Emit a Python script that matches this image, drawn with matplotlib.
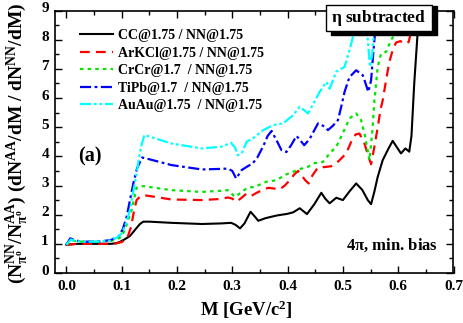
import matplotlib
matplotlib.use("Agg")
import matplotlib.pyplot as plt
from matplotlib.patches import Rectangle
from matplotlib.ticker import MultipleLocator, FormatStrFormatter
import matplotlib.transforms as mtransforms

plt.rcParams['font.family'] = ['Liberation Serif', 'DejaVu Serif']
plt.rcParams['font.weight'] = 'bold'
plt.rcParams['mathtext.fontset'] = 'custom'
plt.rcParams['mathtext.rm'] = 'Liberation Serif:bold'
plt.rcParams['mathtext.it'] = 'Liberation Serif:bold'
plt.rcParams['mathtext.bf'] = 'Liberation Serif:bold'
plt.rcParams['lines.scale_dashes'] = False

# ---------------- data ----------------
labels = ["CC@1.75 / NN@1.75", "ArKCl@1.75 / NN@1.75", "CrCr@1.7  / NN@1.75",
          "TiPb@1.7  / NN@1.75", "AuAu@1.75  / NN@1.75"]

cc_x = [0.0, 0.02, 0.05, 0.08, 0.09, 0.097, 0.105, 0.115, 0.125, 0.133, 0.139, 0.15, 0.19,
        0.245, 0.28, 0.298, 0.306, 0.314, 0.322, 0.333, 0.34, 0.347, 0.36, 0.38, 0.40, 0.41,
        0.422, 0.435, 0.448, 0.461, 0.468, 0.476, 0.488, 0.50, 0.512, 0.524, 0.535, 0.545,
        0.551, 0.557, 0.563, 0.572, 0.582, 0.590, 0.598, 0.605, 0.613, 0.620, 0.624, 0.629,
        0.635, 0.641]
cc_y = [0.97, 1.0, 1.0, 1.0, 1.02, 1.07, 1.15, 1.27, 1.50, 1.68, 1.76, 1.76, 1.72,
        1.68, 1.70, 1.72, 1.65, 1.53, 1.70, 2.10, 1.95, 1.79, 1.88, 1.97, 2.03, 2.08,
        2.22, 2.02, 2.35, 2.75, 2.55, 2.39, 2.58, 2.50, 2.80, 3.07, 2.85, 2.50,
        2.36, 2.80, 3.30, 3.87, 4.25, 4.53, 4.30, 4.10, 4.27, 4.16, 4.70, 6.50,
        8.20, 9.30]

ar_x = [0.0, 0.02, 0.05, 0.08, 0.091, 0.100, 0.106, 0.112, 0.117, 0.122, 0.127, 0.133, 0.139,
        0.15, 0.19, 0.245, 0.28, 0.292, 0.300, 0.307, 0.315, 0.326, 0.335, 0.344, 0.355, 0.365,
        0.374, 0.386, 0.395, 0.404, 0.412, 0.419, 0.425, 0.431, 0.438, 0.445, 0.455, 0.46,
        0.470, 0.479, 0.487, 0.494, 0.506, 0.515, 0.523, 0.530, 0.539, 0.546, 0.551, 0.557,
        0.563, 0.568, 0.572, 0.578, 0.584, 0.590, 0.596, 0.604, 0.611, 0.619, 0.623, 0.628]
ar_y = [0.97, 1.0, 1.0, 1.0, 1.02, 1.06, 1.13, 1.30, 1.59, 2.10, 2.50, 2.62, 2.67,
        2.64, 2.52, 2.50, 2.54, 2.59, 2.55, 2.44, 2.55, 2.73, 2.65, 2.75, 2.85, 2.92,
        2.90, 2.87, 3.00, 3.18, 3.38, 3.50, 3.36, 3.20, 3.07, 3.35, 3.62, 3.62,
        3.64, 3.66, 3.75, 3.87, 4.10, 4.50, 4.75, 4.78, 4.44, 4.00, 3.73, 4.33,
        5.00, 5.60, 5.92, 6.60, 7.24, 7.64, 7.90, 7.95, 7.86, 7.92, 8.26, 9.30]

cr_x = [0.0, 0.01, 0.02, 0.05, 0.08, 0.09, 0.10, 0.108, 0.118, 0.127, 0.139, 0.15, 0.19,
        0.245, 0.28, 0.292, 0.305, 0.315, 0.328, 0.34, 0.362, 0.38, 0.395, 0.41, 0.425,
        0.437, 0.446, 0.464, 0.476, 0.488, 0.500, 0.512, 0.524, 0.533, 0.540, 0.548,
        0.553, 0.557, 0.563, 0.569, 0.578, 0.587, 0.596, 0.602]
cr_y = [0.97, 1.12, 1.08, 1.07, 1.10, 1.15, 1.24, 1.60, 2.16, 2.93, 2.98, 2.95, 2.84,
        2.78, 2.82, 2.84, 2.61, 2.75, 2.93, 2.95, 3.13, 3.18, 3.36, 3.47, 3.58,
        3.64, 3.76, 3.81, 4.10, 4.33, 4.80, 5.30, 5.47, 5.24, 4.70, 3.87,
        4.80, 5.92, 7.07, 7.52, 7.58, 7.98, 8.26, 9.30]

ti_x = [0.0, 0.007, 0.015, 0.03, 0.06, 0.08, 0.094, 0.102, 0.109, 0.115, 0.121, 0.128, 0.137,
        0.15, 0.19, 0.245, 0.28, 0.292, 0.300, 0.307, 0.317, 0.327, 0.337, 0.345, 0.356,
        0.364, 0.371, 0.38, 0.389, 0.398, 0.407, 0.416, 0.423, 0.43, 0.44, 0.455, 0.464,
        0.473, 0.482, 0.491, 0.497, 0.503, 0.512, 0.524, 0.536, 0.542, 0.546, 0.551,
        0.555, 0.559, 0.563]
ti_y = [0.97, 1.19, 1.12, 1.07, 1.08, 1.13, 1.24, 1.50, 1.93, 2.50, 3.07, 3.60, 3.96,
        3.90, 3.70, 3.55, 3.57, 3.58, 3.50, 3.24, 3.53, 3.65, 3.76, 3.95, 4.35,
        4.70, 4.87, 4.55, 4.21, 4.15, 4.40, 4.70, 4.55, 4.38, 4.60, 5.13, 5.05,
        4.90, 5.05, 5.24, 5.70, 6.21, 6.72, 6.95, 6.78, 6.44, 6.21, 6.61,
        7.55, 8.44, 9.30]

au_x = [0.0, 0.008, 0.015, 0.03, 0.06, 0.08, 0.092, 0.10, 0.108, 0.115, 0.121, 0.127, 0.131,
        0.135, 0.141, 0.15, 0.19, 0.245, 0.28, 0.298, 0.305, 0.31, 0.317, 0.326, 0.337,
        0.356, 0.374, 0.392, 0.410, 0.422, 0.430, 0.437, 0.448, 0.458, 0.470, 0.476,
        0.488, 0.503, 0.512, 0.518, 0.522, 0.53, 0.538, 0.544, 0.549, 0.553, 0.557, 0.561]
au_y = [0.97, 1.15, 1.10, 1.07, 1.08, 1.12, 1.22, 1.36, 1.70, 2.16, 2.80, 3.41, 3.90,
        4.33, 4.73, 4.68, 4.44, 4.27, 4.33, 4.46, 4.30, 4.04, 4.10, 4.50, 4.61,
        4.90, 5.07, 5.13, 5.41, 5.70, 5.58, 5.47, 5.85, 6.21, 6.55, 6.32,
        6.90, 7.07, 7.64, 8.09, 9.00, 9.60, 9.40, 8.21, 7.07, 7.50, 8.44, 9.40]

xs = [cc_x, ar_x, cr_x, ti_x, au_x]
ys = [cc_y, ar_y, cr_y, ti_y, au_y]
colors = ['#000000', '#ff0000', '#00e600', '#0000ff', '#00ffff']
dash_styles = [None, (0, (7.0, 4.5)), (0, (2.5, 3.0)), (0, (8.0, 2.5, 2.0, 2.5)),
               (0, (8.0, 2.0, 2.0, 2.0, 2.0, 2.0))]

# ---------------- figure ----------------
W, H = 463, 323
fig = plt.figure(figsize=(W / 100, H / 100), dpi=100)
ax = fig.add_axes([54.5 / W, 1 - 273 / H, (453.5 - 54.5) / W, (273 - 10.5) / H])

for x, y, c, ls, lab in zip(xs, ys, colors, dash_styles, labels):
    if ls is None:
        ax.plot(x, y, color=c, lw=1.5, ls='-', label=lab)
    else:
        ax.plot(x, y, color=c, lw=1.6, ls=ls, label=lab)

ax.set_xlim(-0.0215, 0.7)
ax.set_ylim(0, 9)
ax.xaxis.set_major_locator(MultipleLocator(0.1))
ax.xaxis.set_minor_locator(MultipleLocator(0.05))
ax.yaxis.set_major_locator(MultipleLocator(1))
ax.yaxis.set_minor_locator(MultipleLocator(0.5))
ax.xaxis.set_major_formatter(FormatStrFormatter('%.1f'))
ax.tick_params(which='both', direction='in', top=True, right=True, width=1.0)
ax.tick_params(which='major', length=4.8, labelsize=11, pad=5)
ax.tick_params(which='minor', length=2.8)
ax.tick_params(axis='y', which='major', pad=4)
for s in ax.spines.values():
    s.set_linewidth(1.2)

# shift y tick labels slightly upward as in reference
offset = mtransforms.ScaledTranslation(0, 2.5 / 72, fig.dpi_scale_trans)
for lbl in ax.get_yticklabels():
    lbl.set_transform(lbl.get_transform() + offset)

fig.text(246 / W, 1 - 310 / H, r'M [GeV/c$^2$]', fontsize=13.5, fontweight='bold',
         ha='center', va='center')
fig.text(17 / W, 1 - 143 / H,
         r'(N$^{NN}_{\pi^o}$/N$^{AA}_{\pi^o}$) (dN$^{AA}$/dM / dN$^{NN}$/dM)',
         fontsize=14, fontweight='bold', rotation=90, ha='center', va='center')

leg = ax.legend(loc='upper left', bbox_to_anchor=(80 / W, 1 - 29 / H),
                bbox_transform=fig.transFigure, frameon=False, fontsize=10,
                handlelength=2.4, handletextpad=0.3, labelspacing=0.33,
                borderpad=0, borderaxespad=0)

ax.text(78 / W, 1 - 156 / H, '(a)', transform=fig.transFigure, fontsize=14.5,
        fontweight='bold', ha='left', va='center')
ax.text(438 / W, 1 - 245 / H, r'4$\pi$, min. bias', transform=fig.transFigure,
        fontsize=12, fontweight='bold', ha='right', va='center')

# eta subtracted box with shadow
fig.patches.append(Rectangle((331 / W, 1 - 35 / H), 106 / W, 29 / H,
                             transform=fig.transFigure, facecolor='black',
                             edgecolor='black', zorder=5))
fig.patches.append(Rectangle((326 / W, 1 - 31 / H), 106 / W, 26 / H,
                             transform=fig.transFigure, facecolor='white',
                             edgecolor='black', lw=1.0, zorder=6))
fig.text(379 / W, 1 - 18 / H, r'$\eta$ subtracted', fontsize=12.5, fontweight='bold',
         ha='center', va='center', zorder=7)

fig.savefig('out.png', dpi=100)
